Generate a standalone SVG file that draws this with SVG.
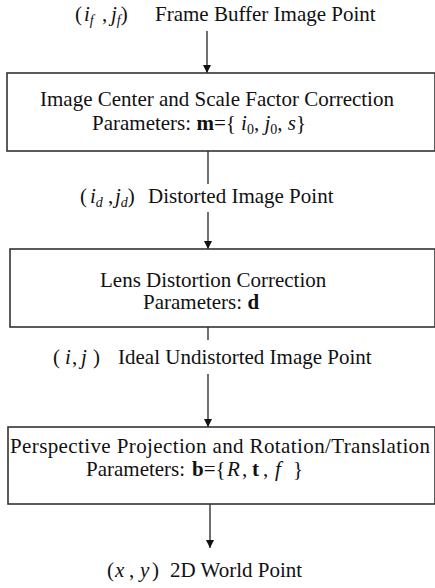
<svg xmlns="http://www.w3.org/2000/svg" width="435" height="588" viewBox="0 0 435 588">
<defs>
<marker id="arr" viewBox="0 0 10 10" refX="10" refY="5" markerWidth="8" markerHeight="8" markerUnits="userSpaceOnUse" orient="auto">
<path d="M0,0 L10,5 L0,10 z" fill="#111"/>
</marker>
</defs>
<style>
text{font-family:"Liberation Serif","Times New Roman",serif;font-size:21px;fill:#111}
.it{font-style:italic}
.b{font-weight:bold}
.sub{font-size:14px}
.box{fill:#fff;stroke:#333;stroke-width:1.6}
.con{stroke:#111;stroke-width:1.2;fill:none}
</style>
<rect width="435" height="588" fill="#fff"/>
<g id="connectors">
<line class="con" x1="207" y1="31" x2="207" y2="73" marker-end="url(#arr)"/>
<line class="con" x1="208" y1="151" x2="208" y2="184"/>
<line class="con" x1="208" y1="212" x2="208" y2="249" marker-end="url(#arr)"/>
<line class="con" x1="208" y1="327" x2="208" y2="340"/>
<line class="con" x1="208" y1="374" x2="208" y2="427" marker-end="url(#arr)"/>
<line class="con" x1="210" y1="504" x2="210" y2="548" marker-end="url(#arr)"/>
</g>
<g id="label-frame">
<text x="75" y="21">(<tspan class="it" x="84">i</tspan><tspan class="it sub" dy="4">f</tspan><tspan x="102" dy="-4">,</tspan><tspan class="it" x="111">j</tspan><tspan class="it sub" dy="4">f</tspan><tspan dy="-4">)</tspan><tspan x="155">Frame Buffer Image Point</tspan></text>
</g>
<g id="box-center">
<rect class="box" x="7" y="73" width="428" height="78"/>
<text x="40" y="106">Image Center and Scale Factor Correction</text>
<text x="92" y="130">Parameters: <tspan class="b">m</tspan>={ <tspan class="it">i</tspan><tspan class="sub" dy="4">0</tspan><tspan dy="-4">, </tspan><tspan class="it">j</tspan><tspan class="sub" dy="4">0</tspan><tspan dy="-4">, </tspan><tspan class="it">s</tspan>}</text>
</g>
<g id="label-distorted">
<text x="80" y="203">(<tspan class="it" x="90">i</tspan><tspan class="it sub" dy="4">d</tspan><tspan x="108" dy="-4">,</tspan><tspan class="it" x="115">j</tspan><tspan class="it sub" dy="4">d</tspan><tspan dy="-4">)</tspan><tspan x="148">Distorted Image Point</tspan></text>
</g>
<g id="box-lens">
<rect class="box" x="10" y="249" width="425" height="78"/>
<text x="100" y="287">Lens Distortion Correction</text>
<text x="143" y="309">Parameters: <tspan class="b">d</tspan></text>
</g>
<g id="label-ideal">
<text x="53" y="364">(<tspan class="it" x="65">i</tspan><tspan x="72">,</tspan><tspan class="it" x="81">j</tspan><tspan x="93">)</tspan><tspan x="118">Ideal Undistorted Image Point</tspan></text>
</g>
<g id="box-perspective">
<rect class="box" x="8" y="427" width="427" height="77"/>
<text x="10" y="453" textLength="420" lengthAdjust="spacing">Perspective Projection and Rotation/Translation</text>
<text x="86" y="476">Parameters:<tspan class="b" x="192">b</tspan>={<tspan class="it" x="227">R</tspan><tspan x="242">,</tspan><tspan class="b" x="252">t</tspan><tspan x="263">,</tspan><tspan class="it" x="275">f</tspan><tspan x="293">}</tspan></text>
</g>
<g id="label-world">
<text x="107" y="577">(<tspan class="it" x="115">x</tspan><tspan x="129">,</tspan><tspan class="it" x="140">y</tspan><tspan x="152">)</tspan><tspan x="170">2D World Point</tspan></text>
</g>
</svg>
